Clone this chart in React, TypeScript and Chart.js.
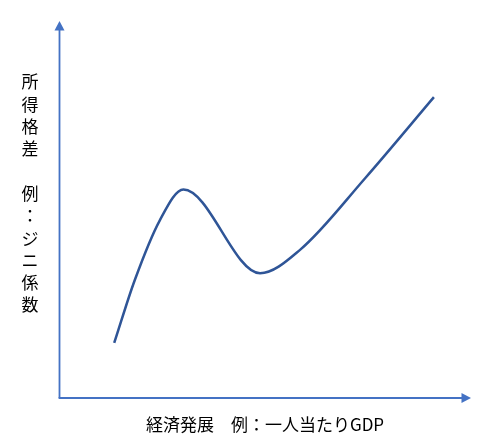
import React, { useEffect, useRef } from "react";
import { Chart, registerables } from "chart.js";

Chart.register(...registerables);

// Economic development (x) vs income inequality (y), arbitrary 0-100 units
const developmentValues = [13.4, 18.4, 24.5, 30.2, 48.8, 58.5, 74.3, 91.0];
const inequalityValues = [14.6, 31.3, 47.2, 55.3, 33.1, 39.3, 58.3, 79.8];

const yAxisLabel = "所得格差　例：ジニ係数";
const xAxisLabel = "経済発展　例：一人当たりGDP";

const FONT = '"Noto Sans CJK JP", "Noto Sans", sans-serif';

const axesPlugin = {
  id: "arrowAxes",
  afterDraw(chart: any) {
    const { ctx, chartArea } = chart;
    const left = chartArea.left + 0.5;
    const bottom = chartArea.bottom;
    const top = chartArea.top;
    const right = chartArea.right;
    ctx.save();
    ctx.strokeStyle = "#4472C4";
    ctx.fillStyle = "#4472C4";
    ctx.lineWidth = 1.8;
    // y axis
    ctx.beginPath();
    ctx.moveTo(left, bottom);
    ctx.lineTo(left, top + 8);
    ctx.stroke();
    ctx.beginPath();
    ctx.moveTo(left, top);
    ctx.lineTo(left - 5, top + 9.5);
    ctx.lineTo(left + 5, top + 9.5);
    ctx.closePath();
    ctx.fill();
    // x axis
    ctx.beginPath();
    ctx.moveTo(left - 0.9, bottom);
    ctx.lineTo(right - 8, bottom);
    ctx.stroke();
    ctx.beginPath();
    ctx.moveTo(right, bottom);
    ctx.lineTo(right - 9.5, bottom - 5);
    ctx.lineTo(right - 9.5, bottom + 5);
    ctx.closePath();
    ctx.fill();

    // labels
    ctx.fillStyle = "#000000";
    ctx.font = `17px ${FONT}`;
    ctx.textAlign = "center";
    ctx.textBaseline = "middle";
    const chars = Array.from(yAxisLabel);
    chars.forEach((ch, i) => {
      ctx.fillText(ch, 30, 82 + i * 22.3);
    });
    ctx.fillText(xAxisLabel, 265, 425);
    ctx.restore();
  },
};

export default function App() {
  const canvasRef = useRef<HTMLCanvasElement | null>(null);

  useEffect(() => {
    if (!canvasRef.current) return;
    const chart = new Chart(canvasRef.current, {
      type: "line",
      data: {
        datasets: [
          {
            data: developmentValues.map((x, i) => ({ x, y: inequalityValues[i] })),
            borderColor: "#2F5597",
            borderWidth: 2.5,
            pointRadius: 0,
            cubicInterpolationMode: "monotone",
            fill: false,
            clip: false as any,
          },
        ],
      },
      options: {
        animation: false,
        responsive: false,
        maintainAspectRatio: false,
        layout: { padding: { left: 59, right: 29, top: 21, bottom: 45 } },
        plugins: { legend: { display: false }, tooltip: { enabled: false }, title: { display: false } },
        scales: {
          x: { type: "linear", min: 0, max: 100, display: false },
          y: { type: "linear", min: 0, max: 100, display: false },
        },
      },
      plugins: [axesPlugin],
    });
    return () => chart.destroy();
  }, []);

  return (
    <div style={{ position: "absolute", left: 0, top: 0, width: 500, height: 443, background: "#fff" }}>
      <canvas ref={canvasRef} width={500} height={443} style={{ width: 500, height: 443 }} />
    </div>
  );
}
